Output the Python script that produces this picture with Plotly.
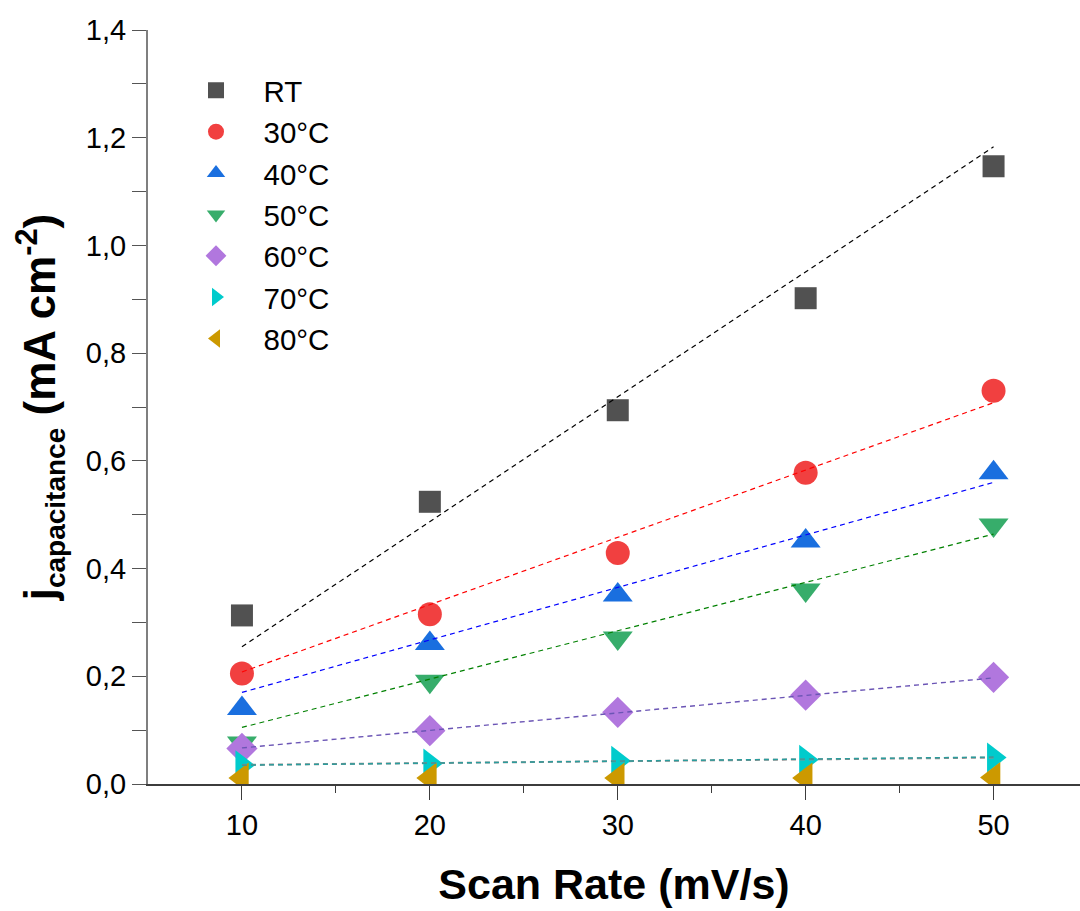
import plotly.graph_objects as go

# ---- data ----
scan_rate = [10, 20, 30, 40, 50]
series_names = ["RT", "30°C", "40°C", "50°C", "60°C", "70°C", "80°C"]

j_RT = [0.313, 0.524, 0.694, 0.902, 1.147]
j_30 = [0.205, 0.315, 0.429, 0.578, 0.730]
j_40 = [0.140, 0.261, 0.351, 0.451, 0.578]
j_50 = [0.076, 0.191, 0.271, 0.360, 0.481]
j_60 = [0.066, 0.099, 0.133, 0.165, 0.198]
j_70 = [0.035, 0.038, 0.043, 0.045, 0.049]
j_80 = [0.011, 0.011, 0.011, 0.011, 0.012]

# linear-fit lines (values at the first and last scan rate)
fit_x = [10, 50]
fit_RT = [0.255, 1.183]
fit_30 = [0.208, 0.708]
fit_40 = [0.170, 0.560]
fit_50 = [0.105, 0.464]
fit_60 = [0.067, 0.197]
fit_70 = [0.035, 0.050]
fit_80 = [0.0355, 0.049]

y_tickvals = [0, 0.2, 0.4, 0.6, 0.8, 1.0, 1.2, 1.4]
y_ticktext = ["0,0", "0,2", "0,4", "0,6", "0,8", "1,0", "1,2", "1,4"]
x_tickvals = [10, 20, 30, 40, 50]
x_ticktext = ["10", "20", "30", "40", "50"]

data_series = [j_RT, j_30, j_40, j_50, j_60, j_70, j_80]
fit_series = [fit_RT, fit_30, fit_40, fit_50, fit_60, fit_70, fit_80]

# ---- styles ----
marker_colors = ["#515151", "#F14040", "#1A6FDF", "#37AD6B", "#B177DE", "#00CBCC", "#CC9900"]
marker_symbols = ["square", "circle", "triangle-up", "triangle-down", "diamond", "triangle-right", "triangle-left"]
marker_sizes = [22, 24, 26, 26, 24, 26, 27]
fit_colors = ["#000000", "#FF0000", "#0000FF", "#008000", "#6B55B5", "#2A9D9D", "#8C8C8C"]
fit_widths = [1.2, 1.2, 1.2, 1.2, 1.4, 1.4, 2.0]

FONT = "Liberation Sans, Arial, sans-serif"

fig = go.Figure()

for i, name in enumerate(series_names):
    fig.add_trace(go.Scatter(
        x=scan_rate, y=data_series[i], mode="markers", name=name,
        marker=dict(symbol=marker_symbols[i], size=marker_sizes[i],
                    color=marker_colors[i], line=dict(width=0)),
    ))

# fit lines (drawn over markers), 80°C gray first so teal is visible
order = [0, 1, 2, 3, 4, 6, 5]
for i in order:
    fig.add_trace(go.Scatter(
        x=fit_x, y=fit_series[i], mode="lines", showlegend=False,
        line=dict(color=fit_colors[i], width=fit_widths[i], dash="5px,4px"),
        hoverinfo="skip",
    ))

fig.update_layout(
    width=1080, height=911,
    margin=dict(l=148, r=0, t=30, b=127),
    paper_bgcolor="white", plot_bgcolor="white",
    font=dict(family=FONT, size=28, color="black"),
    legend=dict(
        x=0.022, y=0.954, xanchor="left", yanchor="top",
        bgcolor="rgba(0,0,0,0)", borderwidth=0,
        font=dict(family=FONT, size=29.5, color="black"),
        tracegroupgap=0, itemwidth=85,
    ),
)

fig.update_xaxes(
    range=[5, 54.6], showgrid=False, zeroline=False,
    showline=True, linecolor="#3c3c3c", linewidth=2,
    tickvals=x_tickvals, ticktext=x_ticktext,
    ticks="outside", ticklen=14, tickwidth=1.2, tickcolor="#3c3c3c",
    tickfont=dict(family=FONT, size=29, color="black"),
    minor=dict(tickvals=[15, 25, 35, 45], ticks="outside", ticklen=7, tickwidth=1.2, tickcolor="#3c3c3c"),
    title=dict(text="<b>Scan Rate (mV/s)</b>", font=dict(family=FONT, size=43, color="black"), standoff=29),
    automargin=False,
)

fig.update_yaxes(
    range=[0, 1.4], showgrid=False, zeroline=False,
    showline=True, linecolor="#7f7f7f", linewidth=2,
    tickvals=y_tickvals, ticktext=y_ticktext,
    ticks="outside", ticklen=14, tickwidth=1.2, tickcolor="#555555",
    tickfont=dict(family=FONT, size=29, color="black"),
    minor=dict(tickvals=[0.1, 0.3, 0.5, 0.7, 0.9, 1.1, 1.3], ticks="outside", ticklen=14, tickwidth=1.2, tickcolor="#555555"),
    title=dict(text="<b>j<sub><span style='font-size:28px'>capacitance</span></sub> (mA cm<sup>-2</sup>)</b>",
               font=dict(family=FONT, size=44, color="black"), standoff=16),
    automargin=False,
)

fig.write_html("out.html")
